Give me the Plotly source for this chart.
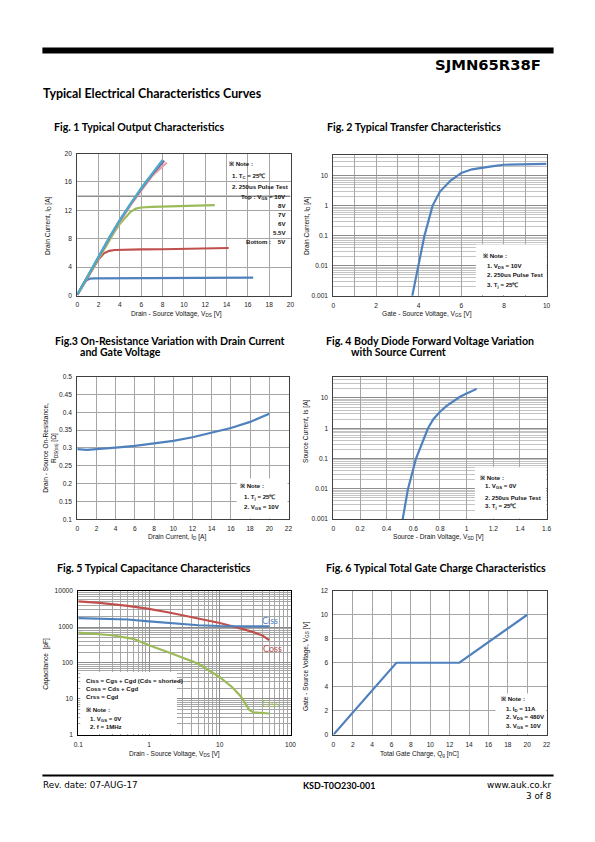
import plotly.graph_objects as go

W, H = 595, 842

# ---------------- DATA ----------------
# Fig 1: Output characteristics (VDS [V], ID [A]) per VGS
f1_x_5v = [0, 0.3, 0.6, 0.9, 1.2, 1.6, 2, 4, 8, 12, 16.5]
f1_y_5v = [0.1, 0.9, 1.75, 2.2, 2.38, 2.42, 2.42, 2.43, 2.45, 2.48, 2.52]
f1_x_55v = [0, 0.5, 1, 1.5, 2, 2.5, 3, 3.5, 4, 6, 8, 10, 12, 14.2]
f1_y_55v = [0.1, 1.3, 2.6, 3.9, 5.1, 5.95, 6.3, 6.42, 6.45, 6.5, 6.52, 6.55, 6.6, 6.7]
f1_x_6v = [0, 1, 2, 3, 3.5, 4, 4.5, 5, 5.5, 6, 7, 8, 10, 12.9]
f1_y_6v = [0.1, 2.7, 5.3, 7.8, 9.0, 10.1, 11.0, 11.8, 12.25, 12.4, 12.5, 12.55, 12.6, 12.75]
f1_x_7v = [0, 1, 2, 3, 4, 5, 6, 7, 8.4]
f1_y_7v = [0.1, 2.75, 5.45, 8.0, 10.4, 12.7, 14.8, 16.8, 18.75]
f1_x_8v = [0, 1, 2, 3, 4, 5, 6, 7, 8.15]
f1_y_8v = [0.1, 2.8, 5.55, 8.1, 10.6, 12.9, 15.0, 17.0, 19.0]
f1_x_10v = [0, 1, 2, 3, 4, 5, 6, 7, 8.0]
f1_y_10v = [0.1, 2.85, 5.6, 8.2, 10.7, 13.0, 15.15, 17.15, 19.1]

# Fig 2: Transfer characteristics (VGS [V], ID [A])
f2_vgs = [3.7, 4.0, 4.27, 4.65, 5.0, 5.5, 6.0, 6.5, 7.0, 7.5, 8.0, 9.0, 10.0]
f2_id = [0.001, 0.01, 0.1, 1, 3, 7, 12.5, 16.5, 19, 21, 23.5, 24.5, 25]

# Fig 3: On-resistance vs drain current (ID [A], RDS(on) [ohm])
f3_id = [0, 1, 2, 3, 4, 6, 8, 10, 12, 14, 16, 18, 20]
f3_rds = [0.297, 0.295, 0.297, 0.298, 0.301, 0.306, 0.312, 0.320, 0.330, 0.342, 0.356, 0.373, 0.396]

# Fig 4: Body diode forward voltage (VSD [V], IS [A])
f4_vsd = [0.52, 0.56, 0.62, 0.71, 0.75, 0.80, 0.85, 0.90, 0.95, 1.0, 1.075]
f4_is = [0.001, 0.01, 0.1, 1, 2, 3.5, 5.5, 8, 11, 14, 20]

# Fig 5: Capacitance (VDS [V], C [pF])
f5_vds_ciss = [0.1, 0.2, 0.5, 1, 2, 5, 10, 20, 50]
f5_ciss = [1780, 1740, 1620, 1430, 1270, 1120, 1070, 1050, 1040]
f5_vds_coss = [0.1, 0.2, 0.5, 1, 2, 5, 10, 20, 30, 40, 50]
f5_coss = [5200, 4700, 3900, 3200, 2500, 1750, 1300, 900, 720, 580, 430]
f5_vds_crss = [0.1, 0.3, 0.6, 1, 2, 5, 10, 15, 20, 23, 26, 30, 50]
f5_crss = [700, 590, 470, 310, 190, 95, 40, 21, 11.5, 7.5, 5, 4.2, 3.9]

# Fig 6: Gate charge (Qg [nC], VGS [V])
f6_qg = [0, 6.5, 13, 20]
f6_vgs = [0, 6, 6, 10]

# Tick labels
f2_xtick_vals = [0, 1, 2, 3, 4, 5, 6, 7, 8, 9, 10]
f2_xtick_text = ["0", "", "2", "", "4", "", "6", "", "8", "", "10"]
log_ytick_vals = [0.001, 0.01, 0.1, 1, 10]
log_ytick_text = ["0.001", "0.01", "0.1", "1", "10"]
f3_ytick_vals = [0.1, 0.15, 0.2, 0.25, 0.3, 0.35, 0.4, 0.45, 0.5]
f3_ytick_text = ["0.1", "0.15", "0.2", "0.25", "0.3", "0.35", "0.4", "0.45", "0.5"]
f4_xtick_vals = [0, 0.2, 0.4, 0.6, 0.8, 1.0, 1.2, 1.4, 1.6]
f4_xtick_text = ["0", "0.2", "0.4", "0.6", "0.8", "1", "1.2", "1.4", "1.6"]
f5_xtick_vals = [0.1, 1, 10, 100]
f5_xtick_text = ["0.1", "1", "10", "100"]
f5_ytick_vals = [1, 10, 100, 1000, 10000]
f5_ytick_text = ["1", "10", "100", "1000", "10000"]

# ---------------- STYLE / LAYOUT ----------------
BLUE = "#4F81BD"
RED = "#C0504D"
GREEN = "#9BBB59"
PURPLE = "#8064A2"
AQUA = "#4BACC6"
PINK = "#E8A3A3"

TICKFONT = dict(family="Liberation Sans", size=6.6, color="#222")
TXT = "Liberation Sans"
HEAD = "DejaVu Sans"
TITLE = "Lato"

# small correction so that page positions land where the reference has them
SX, SY = 0.985, 0.992


def px(x):
    return (W / 2 + (x - W / 2) / SX) / W


def py(y):
    return 1 - (H / 2 + (y - H / 2) / SY) / H


fig = go.Figure()

def add(x, y, color, xa, ya, width=2.2):
    fig.add_trace(go.Scatter(x=x, y=y, mode="lines", line=dict(color=color, width=width),
                             xaxis=xa, yaxis=ya, showlegend=False, hoverinfo="skip"))

# Fig 1 traces
add(f1_x_5v, f1_y_5v, BLUE, "x", "y")
add(f1_x_55v, f1_y_55v, RED, "x", "y")
add(f1_x_6v, f1_y_6v, GREEN, "x", "y")
add(f1_x_7v, f1_y_7v, PINK, "x", "y")
add(f1_x_8v, f1_y_8v, PURPLE, "x", "y")
add(f1_x_10v, f1_y_10v, AQUA, "x", "y")
# Fig 2
add(f2_vgs, f2_id, BLUE, "x2", "y2")
# Fig 3
add(f3_id, f3_rds, BLUE, "x3", "y3")
# Fig 4
add(f4_vsd, f4_is, BLUE, "x4", "y4")
# Fig 5
add(f5_vds_coss, f5_coss, RED, "x5", "y5")
add(f5_vds_ciss, f5_ciss, BLUE, "x5", "y5")
add(f5_vds_crss, f5_crss, GREEN, "x5", "y5")
# Fig 6
add(f6_qg, f6_vgs, BLUE, "x6", "y6")


def axis(x0, x1, rng, grid="#A6A6A6", line="#404040", **kw):
    d = dict(domain=[x0, x1], range=rng, showgrid=True, gridcolor=grid, gridwidth=1,
             zeroline=False, showline=True, linecolor=line, linewidth=1, mirror=True,
             ticks="", tickfont=TICKFONT, fixedrange=True, ticklabelstandoff=3)
    d.update(kw)
    return d


lay = dict(width=W, height=H, autosize=False, margin=dict(l=0, r=0, t=0, b=0),
           paper_bgcolor="white", plot_bgcolor="white", showlegend=False)

# Fig 1
lay["xaxis"] = axis(px(77), px(291), [0, 20], dtick=2, anchor="y")
lay["yaxis"] = axis(py(295), py(153), [0, 20], dtick=4, anchor="x")
# Fig 2
lay["xaxis2"] = axis(px(334), px(548), [0, 10], tickvals=f2_xtick_vals, ticktext=f2_xtick_text,
                     anchor="y2", gridcolor="#A6A6A6")
lay["yaxis2"] = axis(py(295.3), py(154.3), [-3, 1.699], type="log", tickvals=log_ytick_vals,
                     ticktext=log_ytick_text, anchor="x2", gridcolor="#8C8C8C",
                     minor=dict(dtick="D1", showgrid=True, gridcolor="#C4C4C4", ticks=""))
# Fig 3
lay["xaxis3"] = axis(px(77), px(289), [0, 22], dtick=2, anchor="y3")
lay["yaxis3"] = axis(py(519), py(376), [0.1, 0.5], tickvals=f3_ytick_vals, ticktext=f3_ytick_text,
                     anchor="x3")
# Fig 4
lay["xaxis4"] = axis(px(334), px(548), [0, 1.6], tickvals=f4_xtick_vals, ticktext=f4_xtick_text,
                     anchor="y4")
lay["yaxis4"] = axis(py(518.7), py(376.3), [-3, 1.699], type="log", tickvals=log_ytick_vals,
                     ticktext=log_ytick_text, anchor="x4", gridcolor="#8C8C8C",
                     minor=dict(dtick="D1", showgrid=True, gridcolor="#C4C4C4", ticks=""))
# Fig 5
lay["xaxis5"] = axis(px(78), px(291), [-1, 2], type="log", tickvals=f5_xtick_vals,
                     ticktext=f5_xtick_text, anchor="y5", line="#000", gridcolor="#8C8C8C",
                     minor=dict(dtick="D1", showgrid=True, gridcolor="#A6A6A6", ticks=""))
lay["yaxis5"] = axis(py(734.3), py(590.7), [0, 4], type="log", tickvals=f5_ytick_vals,
                     ticktext=f5_ytick_text, anchor="x5", line="#000", gridcolor="#8C8C8C",
                     minor=dict(dtick="D1", showgrid=True, gridcolor="#A6A6A6", ticks=""))
# Fig 6
lay["xaxis6"] = axis(px(334), px(548), [0, 22], dtick=2, anchor="y6")
lay["yaxis6"] = axis(py(734.3), py(590.3), [0, 12], dtick=2, anchor="x6")

fig.update_layout(**lay)

shapes = []
# page rules
shapes.append(dict(type="rect", xref="paper", yref="paper", x0=px(42), x1=px(555), y0=py(53), y1=py(47),
                   fillcolor="black", line=dict(width=0)))
shapes.append(dict(type="rect", xref="paper", yref="paper", x0=px(42), x1=px(555), y0=py(776), y1=py(774),
                   fillcolor="black", line=dict(width=0)))
# fig1 dark horizontal rule
shapes.append(dict(type="line", xref="x", yref="y", x0=0, x1=20, y0=14, y1=14,
                   line=dict(color="#555", width=1), layer="below"))
# white note boxes
for (a, b, c, d) in [(477, 548, 244, 294.5), (237, 288, 478, 518), (476, 547.5, 466.7, 518),
                     (80, 177, 671.7, 733.5), (496.7, 547.5, 693, 733.5)]:
    shapes.append(dict(type="rect", xref="paper", yref="paper", x0=px(a), x1=px(b), y0=py(d), y1=py(c),
                       fillcolor="white", line=dict(width=0), layer="above"))
fig.update_layout(shapes=shapes)

anns = []

def ann(text, x, y, size=6, anchor="left", color="#111", family=TXT, angle=0, bold=False):
    if bold:
        text = "<b>" + text + "</b>"
    anns.append(dict(text=text, x=px(x), y=py(y), xref="paper", yref="paper", showarrow=False,
                     xanchor=anchor, yanchor="middle", textangle=angle, borderpad=0,
                     font=dict(family=family, size=size, color=color)))

# header / footer
ann("SJMN65R38F", 543.5, 64, size=14.8, anchor="right", family=HEAD, bold=True, color="#000")
ann("Typical Electrical Characteristics Curves", 41.5, 93, size=12.4, family=TITLE, bold=True, color="#000")
ann("Rev. date: 07-AUG-17", 42, 785, size=8.8, family=HEAD, color="#000")
ann("KSD-T0O230-001", 339.5, 785, size=8.9, anchor="center", family=TITLE, bold=True, color="#000")
ann("www.auk.co.kr", 553.5, 785, size=8.8, anchor="right", family=HEAD, color="#000")
ann("3 of 8", 553.5, 796, size=8.8, anchor="right", family=HEAD, color="#000")

# figure titles
TF = 10.6
ann("Fig. 1 Typical Output Characteristics", 53, 126.7, size=TF, family=TITLE, bold=True, color="#000")
ann("Fig. 2 Typical Transfer Characteristics", 326.5, 126.7, size=TF, family=TITLE, bold=True, color="#000")
ann("Fig.3 On-Resistance Variation with Drain Current", 54, 340, size=TF, family=TITLE, bold=True, color="#000")
ann("and Gate Voltage", 78.3, 351.7, size=TF, family=TITLE, bold=True, color="#000")
ann("Fig. 4 Body Diode Forward Voltage Variation", 326, 340, size=TF, family=TITLE, bold=True, color="#000")
ann("with Source Current", 350.7, 351.2, size=TF, family=TITLE, bold=True, color="#000")
ann("Fig. 5 Typical Capacitance Characteristics", 56, 567.7, size=TF, family=TITLE, bold=True, color="#000")
ann("Fig. 6 Typical Total Gate Charge Characteristics", 326, 567.7, size=TF, family=TITLE, bold=True, color="#000")

# axis titles
AF = 6.6
ann("Drain - Source Voltage, V<sub>DS</sub> [V]", 176.7, 313.3, size=AF, anchor="center")
ann("Drain Current, I<sub>D</sub> [A]", 47, 225, size=AF, anchor="center", angle=-90)
ann("Gate - Source Voltage, V<sub>GS</sub> [V]", 428, 313.3, size=AF, anchor="center")
ann("Drain Current, I<sub>D</sub> [A]", 307, 225, size=AF, anchor="center", angle=-90)
ann("Drain Current, I<sub>D</sub> [A]", 176.7, 536.7, size=AF, anchor="center")
ann("Drain - Source On-Resistance,<br>R<sub>DS(on)</sub> [Ω]", 50, 447, size=AF, anchor="center", angle=-90)
ann("Source - Drain Voltage, V<sub>SD</sub> [V]", 440, 536.7, size=AF, anchor="center")
ann("Source Current, Is [A]", 307, 430, size=AF, anchor="center", angle=-90)
ann("Drain - Source Voltage, V<sub>DS</sub> [V]", 175, 754, size=AF, anchor="center")
ann("Capacitance  [pF]", 46, 663, size=AF, anchor="center", angle=-90)
ann("Total Gate Charge, Q<sub>g</sub> [nC]", 420, 754, size=AF, anchor="center")
ann("Gate - Source Voltage, V<sub>GS</sub> [V]", 307, 665, size=AF, anchor="center", angle=-90)

# notes
NF = 6.1
ann("※ Note :", 228, 163.3, size=NF, bold=True)
ann("1. T<sub>C</sub> = 25℃", 231.7, 175.7, size=NF, bold=True)
ann("2. 250us Pulse Test", 231.7, 185.7, size=NF, bold=True)
ann("Top : V<sub>GS</sub> = 10V", 287, 196, size=NF, anchor="right", bold=True)
ann("8V", 287, 205, size=NF, anchor="right", bold=True)
ann("7V", 287, 214, size=NF, anchor="right", bold=True)
ann("6V", 287, 222.7, size=NF, anchor="right", bold=True)
ann("5.5V", 287, 231.7, size=NF, anchor="right", bold=True)
ann("Bottom :    5V", 287, 240.7, size=NF, anchor="right", bold=True)

ann("※ Note :", 482.7, 255.3, size=NF, bold=True)
ann("1. V<sub>DS</sub> = 10V", 487, 265, size=NF, bold=True)
ann("2. 250us Pulse Test", 487, 274.3, size=NF, bold=True)
ann("3. T<sub>j</sub> = 25℃", 487, 284.3, size=NF, bold=True)

ann("※ Note :", 239.3, 484.7, size=NF, bold=True)
ann("1. T<sub>j</sub> = 25℃", 243.3, 496.3, size=NF, bold=True)
ann("2. V<sub>GS</sub> = 10V", 243.3, 506.7, size=NF, bold=True)

ann("※ Note :", 480, 476.7, size=NF, bold=True)
ann("1. V<sub>GS</sub> = 0V", 485, 485.7, size=NF, bold=True)
ann("2. 250us Pulse Test", 485, 496.7, size=NF, bold=True)
ann("3. T<sub>j</sub> = 25℃", 485, 505.3, size=NF, bold=True)

ann("Ciss = Cgs + Cgd (Cds = shorted)", 84.3, 679.7, size=NF, bold=True)
ann("Coss = Cds + Cgd", 84.3, 687.7, size=NF, bold=True)
ann("Crss = Cgd", 84.3, 695.7, size=NF, bold=True)
ann("※ Note :", 85, 709, size=NF, bold=True)
ann("1. V<sub>GS</sub> = 0V", 89, 718.3, size=NF, bold=True)
ann("2. f = 1MHz", 89, 726, size=NF, bold=True)
ann("Ciss", 261.7, 620, size=9, color=BLUE, family=TITLE)
ann("Coss", 262, 648.3, size=9, color=RED, family=TITLE)
ann("Crss", 261.7, 703.3, size=9, color=GREEN, family=TITLE)

ann("※ Note :", 501.7, 698.3, size=NF, bold=True)
ann("1. I<sub>D</sub> = 11A", 506.5, 708.7, size=NF, bold=True)
ann("2. V<sub>DS</sub> = 480V", 506.5, 717, size=NF, bold=True)
ann("3. V<sub>GS</sub> = 10V", 506.5, 725.3, size=NF, bold=True)

fig.update_layout(annotations=anns)
fig.write_html("out.html", config={"displayModeBar": False, "staticPlot": True},
               post_script="document.body.style.margin='0px';document.body.style.overflow='hidden';")
